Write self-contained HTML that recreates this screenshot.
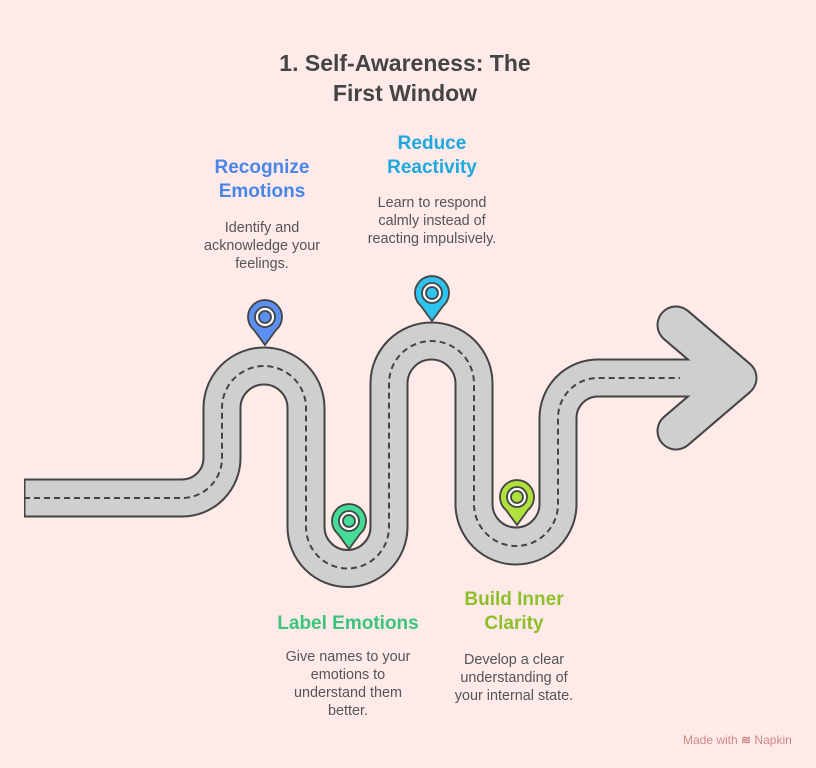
<!DOCTYPE html>
<html><head><meta charset="utf-8"><style>
body{margin:0;background:#fdeae9;}
.w{position:relative;width:816px;height:768px;background:#fdeae9;font-family:"Liberation Sans",sans-serif;overflow:hidden}
.t{position:absolute;text-align:center;white-space:nowrap}
.h{font-weight:bold;font-size:19px;line-height:24px}
.b{font-size:14.4px;line-height:18px;color:#555}
</style></head><body><div class="w">
<svg width="816" height="768" style="position:absolute;left:0;top:0">
<g fill="none">
<path d="M 24 498 H 182 A 40 40 0 0 0 222 458 V 408 A 42 42 0 0 1 306 408 V 527 A 41.5 41.5 0 0 0 389 527 V 383.5 A 42.5 42.5 0 0 1 474 383.5 V 504 A 42 42 0 0 0 558 504 V 418 A 40 40 0 0 1 598 378 H 720" stroke="#444" stroke-width="39"/>
<path d="M 676 325 L 738 378 L 676 431" stroke="#444" stroke-width="39" stroke-linecap="round" stroke-linejoin="round"/>
<path d="M 25.5 498 H 182 A 40 40 0 0 0 222 458 V 408 A 42 42 0 0 1 306 408 V 527 A 41.5 41.5 0 0 0 389 527 V 383.5 A 42.5 42.5 0 0 1 474 383.5 V 504 A 42 42 0 0 0 558 504 V 418 A 40 40 0 0 1 598 378 H 720" stroke="#cfcfcf" stroke-width="35"/>
<path d="M 676 325 L 738 378 L 676 431" stroke="#cfcfcf" stroke-width="35" stroke-linecap="round" stroke-linejoin="round"/>
<path d="M 24 498 H 182 A 40 40 0 0 0 222 458 V 408 A 42 42 0 0 1 306 408 V 527 A 41.5 41.5 0 0 0 389 527 V 383.5 A 42.5 42.5 0 0 1 474 383.5 V 504 A 42 42 0 0 0 558 504 V 418 A 40 40 0 0 1 598 378 H 680" stroke="#444" stroke-width="2" stroke-dasharray="6 4"/>
</g>
<g stroke="#444" stroke-width="1.8">
<path d="M265 345 L254 330 A17 17 0 1 1 276 330 Z" fill="#5b8ff2"/><circle cx="265" cy="317" r="10" fill="#fff"/><circle cx="265" cy="317" r="6" fill="#5b8ff2"/>
<path d="M432 321 L421 306 A17 17 0 1 1 443 306 Z" fill="#2ec4ef"/><circle cx="432" cy="293" r="10" fill="#fff"/><circle cx="432" cy="293" r="6" fill="#2ec4ef"/>
<path d="M349 549 L338 534 A17 17 0 1 1 360 534 Z" fill="#45dc97"/><circle cx="349" cy="521" r="10" fill="#fff"/><circle cx="349" cy="521" r="6" fill="#45dc97"/>
<path d="M517 525 L506 510 A17 17 0 1 1 528 510 Z" fill="#afe03c"/><circle cx="517" cy="497" r="10" fill="#fff"/><circle cx="517" cy="497" r="6" fill="#afe03c"/>
</g>
</svg>
<div class="t" style="left:205px;width:400px;top:48px;font-weight:bold;font-size:23px;line-height:30px;color:#444">1. Self-Awareness: The<br>First Window</div>
<div class="t h" style="left:162px;width:200px;top:156px;color:#4a86e8">Recognize<br>Emotions</div>
<div class="t b" style="left:162px;width:200px;top:219px">Identify and<br>acknowledge your<br>feelings.</div>
<div class="t h" style="left:332px;width:200px;top:132px;color:#1ea8dd">Reduce<br>Reactivity</div>
<div class="t b" style="left:332px;width:200px;top:194px">Learn to respond<br>calmly instead of<br>reacting impulsively.</div>
<div class="t h" style="left:248px;width:200px;top:612px;color:#3cc47c">Label Emotions</div>
<div class="t b" style="left:248px;width:200px;top:648px">Give names to your<br>emotions to<br>understand them<br>better.</div>
<div class="t h" style="left:414px;width:200px;top:588px;color:#8fbf2a">Build Inner<br>Clarity</div>
<div class="t b" style="left:414px;width:200px;top:651px">Develop a clear<br>understanding of<br>your internal state.</div>
<div class="t" style="left:683px;top:733px;font-size:12px;color:#d48787">Made with <span style="font-weight:bold">≋</span> Napkin</div>
</div></body></html>
